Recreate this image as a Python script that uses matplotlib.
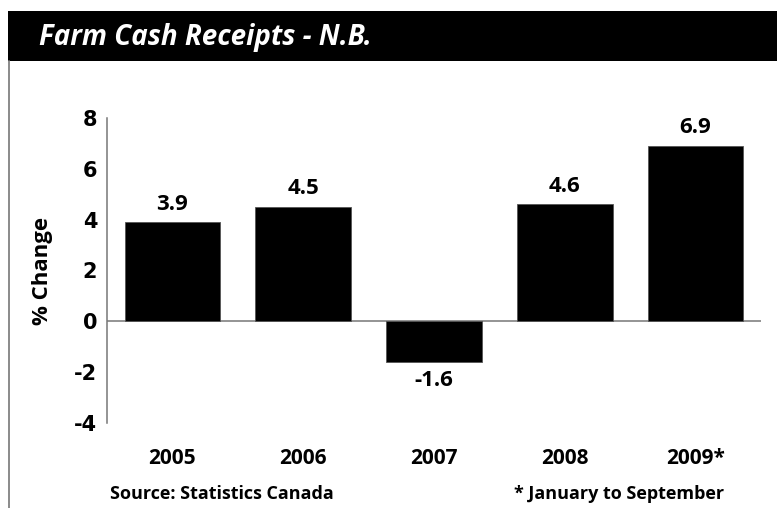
import matplotlib.pyplot as plt
from matplotlib.patches import Rectangle
from matplotlib.lines import Line2D

years = ['2005', '2006', '2007', '2008', '2009*']
change = [3.9, 4.5, -1.6, 4.6, 6.9]
yticks = [-4, -2, 0, 2, 4, 6, 8]

fnt = 'Open Sans'

fig = plt.figure(figsize=(7.77, 5.08), dpi=100)
fig.patch.set_facecolor('white')

# black title band and left frame line
fig.patches.append(Rectangle((8/777, 1-61/508), 1-8/777, 50/508, transform=fig.transFigure,
                             facecolor='black', edgecolor='none'))
fig.lines.append(Line2D([8.5/777, 8.5/777], [0, 1-61/508], transform=fig.transFigure,
                        color='#777777', lw=1.2))
fig.text(39/777, 1-37/508, 'Farm Cash Receipts - N.B.', color='white', fontsize=20,
         fontweight='bold', style='italic', family=fnt, va='center', ha='left')

ax = fig.add_axes([107/777, 1-423/508, (761-107)/777, (423-118)/508])
x = range(len(years))
ax.bar(x, change, width=0.73, color='black', edgecolor='#555555', linewidth=0.6, zorder=3)
ax.axhline(0, color='#777777', lw=1.1, zorder=2)

for i, v in enumerate(change):
    if v >= 0:
        ax.text(i, v + 0.3, '%.1f' % v, ha='center', va='bottom', fontsize=16,
                fontweight='bold', family=fnt)
    else:
        ax.text(i, v - 0.3, '%.1f' % v, ha='center', va='top', fontsize=16,
                fontweight='bold', family=fnt)

ax.set_xlim(-0.5, 4.5)
ax.set_ylim(-4, 8)
ax.set_yticks(yticks)
ax.set_yticklabels([str(t) for t in yticks], fontsize=15, fontweight='bold', family='DejaVu Sans')
ax.set_xticks(list(x))
ax.set_xticklabels(years, fontsize=15, fontweight='bold', family=fnt)
ax.tick_params(axis='y', length=0, pad=7)
ax.tick_params(axis='x', length=0, pad=18)
for s in ['top', 'right', 'bottom']:
    ax.spines[s].set_visible(False)
ax.spines['left'].set_color('#777777')
ax.spines['left'].set_linewidth(1.1)
ax.set_ylabel('% Change', fontsize=16, fontweight='bold', family=fnt)
ax.yaxis.set_label_coords(-54/654, 0.5)

fig.text(110/777, 1-494/508, 'Source: Statistics Canada', fontsize=13, fontweight='bold',
         family=fnt, va='center', ha='left')
fig.text(514/777, 1-494/508, '* January to September', fontsize=13, fontweight='bold',
         family=fnt, va='center', ha='left')

plt.savefig('out.png', dpi=100)
